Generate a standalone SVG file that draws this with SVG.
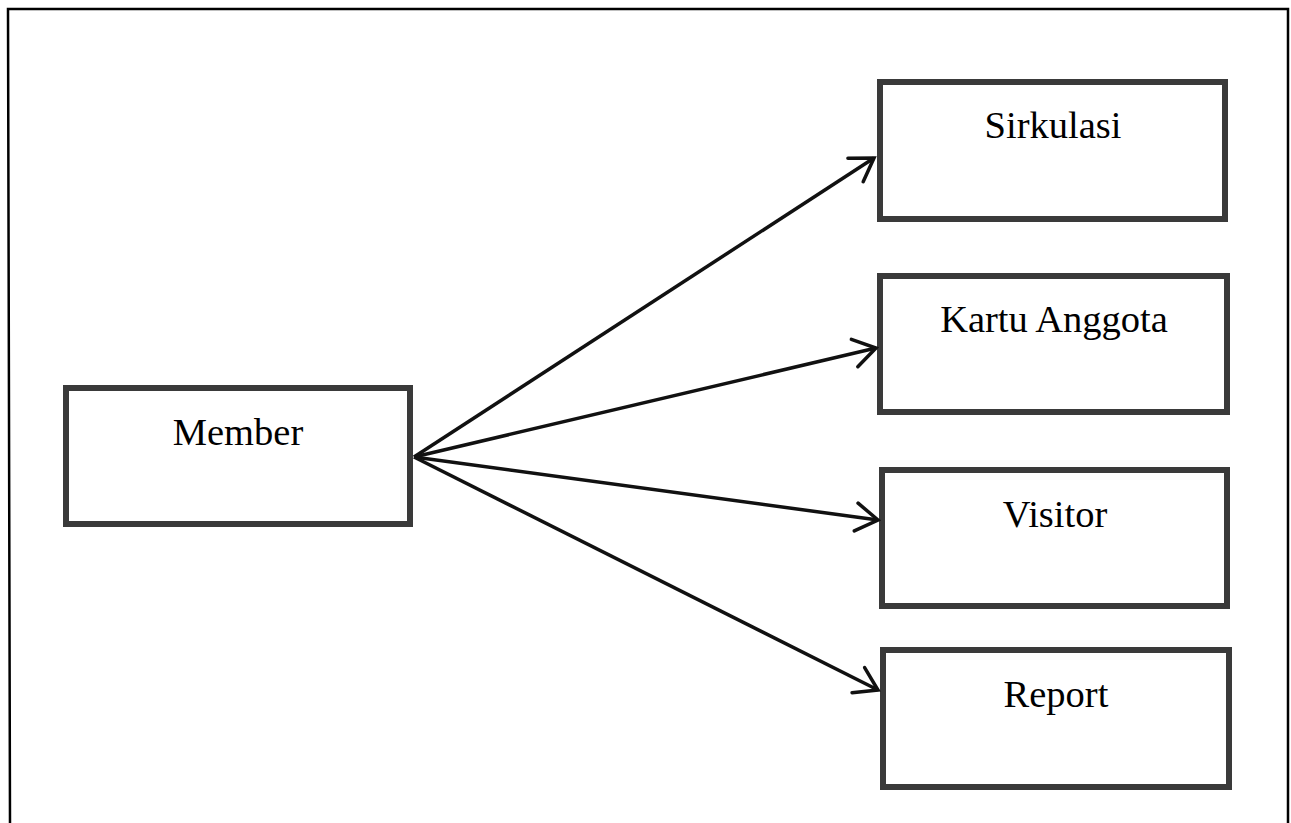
<svg xmlns="http://www.w3.org/2000/svg" width="1291" height="823" viewBox="0 0 1291 823">
<style>
.box{fill:#fff;stroke:#3a3a3a;stroke-width:6}
.lbl{font-family:"Liberation Serif","Times New Roman",serif;font-size:38.5px;fill:#000;text-anchor:middle}
.conn{stroke:#111;stroke-width:3.5;fill:none}
.frame{stroke:#000;stroke-width:2.5;fill:none}
</style>
<defs>
<marker id="arr" markerUnits="userSpaceOnUse" markerWidth="40" markerHeight="40" viewBox="-30 -20 40 40" refX="0" refY="0" orient="auto">
<path d="M-22,-14 L0,0 L-22,14" fill="none" stroke="#111" stroke-width="3.5" stroke-linecap="round" stroke-linejoin="miter"/>
</marker>
</defs>
<rect width="1291" height="823" fill="#fff"/>
<path class="frame" d="M10,823 L8,9 L1288,9 L1288,823"/>
<g id="member"><rect class="box" x="66" y="388" width="344" height="136"/><text class="lbl" x="238" y="445">Member</text></g>
<g id="sirkulasi"><rect class="box" x="880" y="82" width="345" height="137"/><text class="lbl" x="1053" y="138">Sirkulasi</text></g>
<g id="kartu"><rect class="box" x="880" y="276" width="347" height="136"/><text class="lbl" x="1054" y="332">Kartu Anggota</text></g>
<g id="visitor"><rect class="box" x="882" y="470" width="345" height="136"/><text class="lbl" x="1055" y="527">Visitor</text></g>
<g id="report"><rect class="box" x="883" y="650" width="346" height="137"/><text class="lbl" x="1056" y="707">Report</text></g>
<g id="connectors">
<line class="conn" x1="414" y1="457" x2="874" y2="158" marker-end="url(#arr)"/>
<line class="conn" x1="414" y1="457" x2="876" y2="348" marker-end="url(#arr)"/>
<line class="conn" x1="414" y1="457" x2="878" y2="520" marker-end="url(#arr)"/>
<line class="conn" x1="414" y1="457" x2="878" y2="690" marker-end="url(#arr)"/>
</g>
</svg>
